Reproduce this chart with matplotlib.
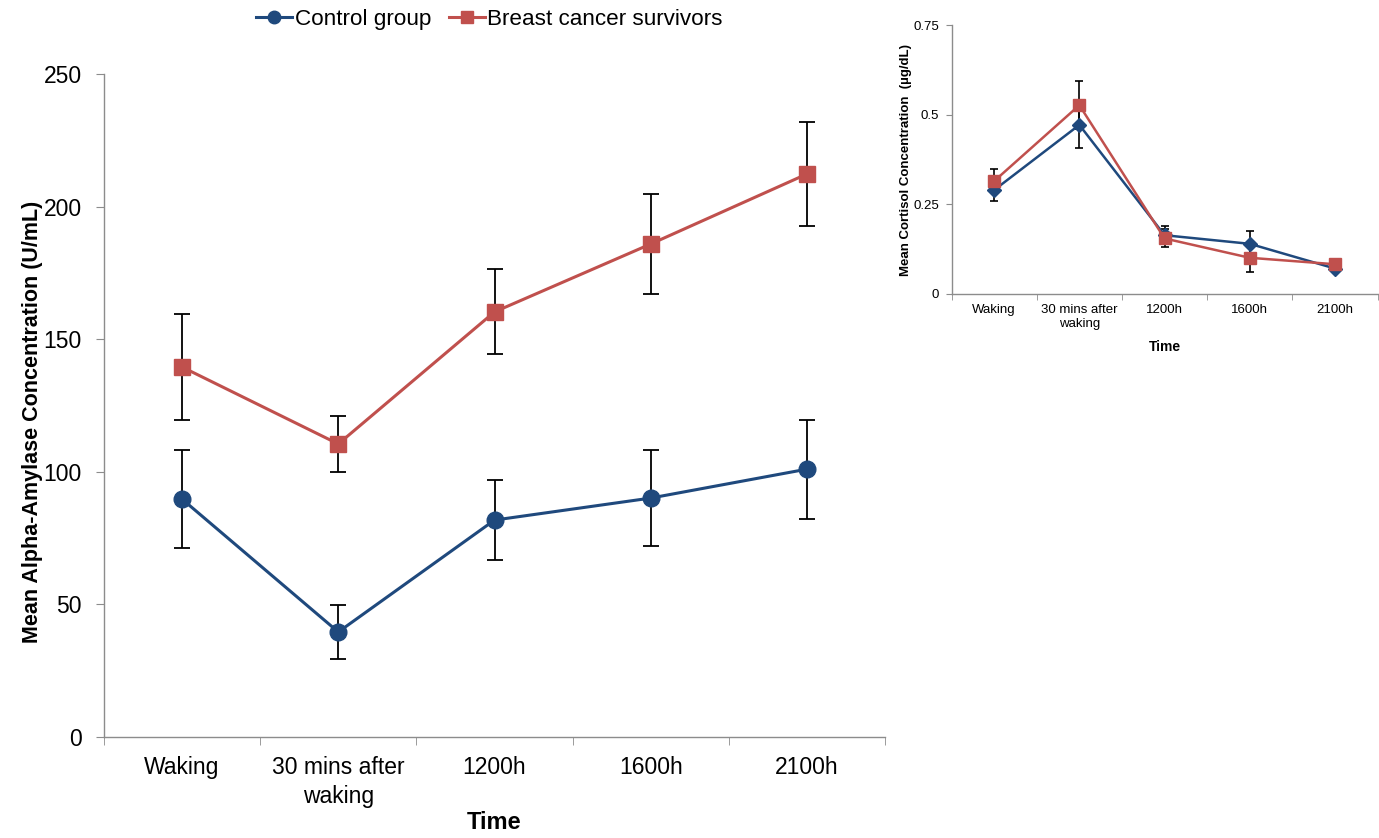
import matplotlib
matplotlib.use("Agg")
import matplotlib.pyplot as plt
from matplotlib.lines import Line2D
import numpy as np

categories = ["Waking", "30 mins after\nwaking", "1200h", "1600h", "2100h"]

# Main panel: alpha-amylase (U/mL)
amylase_control = [89.7, 39.6, 81.8, 90.1, 101.0]
amylase_control_err = [18.5, 10.0, 15.0, 18.0, 18.7]
amylase_bcs = [139.5, 110.5, 160.3, 185.9, 212.3]
amylase_bcs_err = [20.0, 10.5, 16.0, 19.0, 19.7]

# Inset panel: cortisol (ug/dL)
cortisol_control = [0.290, 0.472, 0.164, 0.140, 0.071]
cortisol_control_err = [0.030, 0.064, 0.025, 0.037, 0.010]
cortisol_bcs = [0.315, 0.527, 0.155, 0.101, 0.083]
cortisol_bcs_err = [0.033, 0.067, 0.025, 0.040, 0.010]

blue = "#1F497D"
red = "#C0504D"
spine_c = "#8C8C8C"

plt.rcParams['font.family'] = ['Liberation Sans', 'DejaVu Sans']

fig = plt.figure(figsize=(13.79, 8.38), dpi=100)

x = np.arange(len(categories))

def style_axes(ax, ymax, fs, ticklen, ypad, xpad):
    ax.set_xlim(-0.5, len(categories) - 0.5)
    ax.set_ylim(0, ymax)
    for s in ["top", "right"]:
        ax.spines[s].set_visible(False)
    for s in ["left", "bottom"]:
        ax.spines[s].set_color(spine_c)
        ax.spines[s].set_linewidth(1.0)
    ax.set_xticks(x)
    ax.set_xticklabels(categories, fontsize=fs, linespacing=1.3)
    ax.set_xticks(np.arange(len(categories) + 1) - 0.5, minor=True)
    ax.tick_params(axis="x", which="major", length=0, pad=xpad)
    ax.tick_params(axis="x", which="minor", length=ticklen, color=spine_c, direction="out")
    ax.tick_params(axis="y", length=ticklen, color=spine_c, direction="out", labelsize=fs, pad=ypad)

# Main axes
ax = fig.add_axes([0.0754, 0.1205, 0.5664, 0.7912])
ax.errorbar(x, amylase_control, yerr=amylase_control_err, color=blue, lw=2.2,
            marker="o", ms=12, ecolor="black", elinewidth=1.3, capsize=6, capthick=1.3,
            label="Control group", zorder=3)
ax.errorbar(x, amylase_bcs, yerr=amylase_bcs_err, color=red, lw=2.2,
            marker="s", ms=12, ecolor="black", elinewidth=1.3, capsize=6, capthick=1.3,
            label="Breast cancer survivors", zorder=3)
style_axes(ax, 250, 16.5, 6, 10, 14)
ax.set_yticks(np.arange(0, 251, 50))
ax.set_ylabel("Mean Alpha-Amylase Concentration (U/mL)", fontsize=15.5, fontweight="bold")
ax.yaxis.set_label_coords(-0.078, 0.475)
ax.set_xlabel("Time", fontsize=17, fontweight="bold", labelpad=2)

# Legend
handles = [Line2D([0], [0], color=blue, lw=2.2, marker="o", ms=9),
           Line2D([0], [0], color=red, lw=2.2, marker="s", ms=9)]
fig.legend(handles, ["Control group", "Breast cancer survivors"], loc="center",
           bbox_to_anchor=(0.355, 0.977), ncol=2, frameon=False,
           handlelength=1.6, handletextpad=0.1, columnspacing=0.8,
           prop={'family': ['Liberation Sans Narrow', 'Liberation Sans'], 'size': 16.2})

# Inset axes
ax2 = fig.add_axes([0.690, 0.6492, 0.309, 0.3206])
ax2.errorbar(x, cortisol_control, yerr=cortisol_control_err, color=blue, lw=1.8,
             marker="D", ms=7, ecolor="black", elinewidth=1.2, capsize=3, capthick=1.2, zorder=3)
ax2.errorbar(x, cortisol_bcs, yerr=cortisol_bcs_err, color=red, lw=1.8,
             marker="s", ms=8, ecolor="black", elinewidth=1.2, capsize=3, capthick=1.2, zorder=3)
style_axes(ax2, 0.75, 9.5, 4, 5, 7)
ax2.set_yticks([0, 0.25, 0.5, 0.75])
ax2.set_yticklabels(["0", "0.25", "0.5", "0.75"])
ax2.set_ylabel("Mean Cortisol Concentration  (\u00b5g/dL)", fontsize=9.5, fontweight="bold")
ax2.yaxis.set_label_coords(-0.092, 0.5)
ax2.set_xlabel("Time", fontsize=10, fontweight="bold", labelpad=7)

fig.savefig("out.png", dpi=100)
